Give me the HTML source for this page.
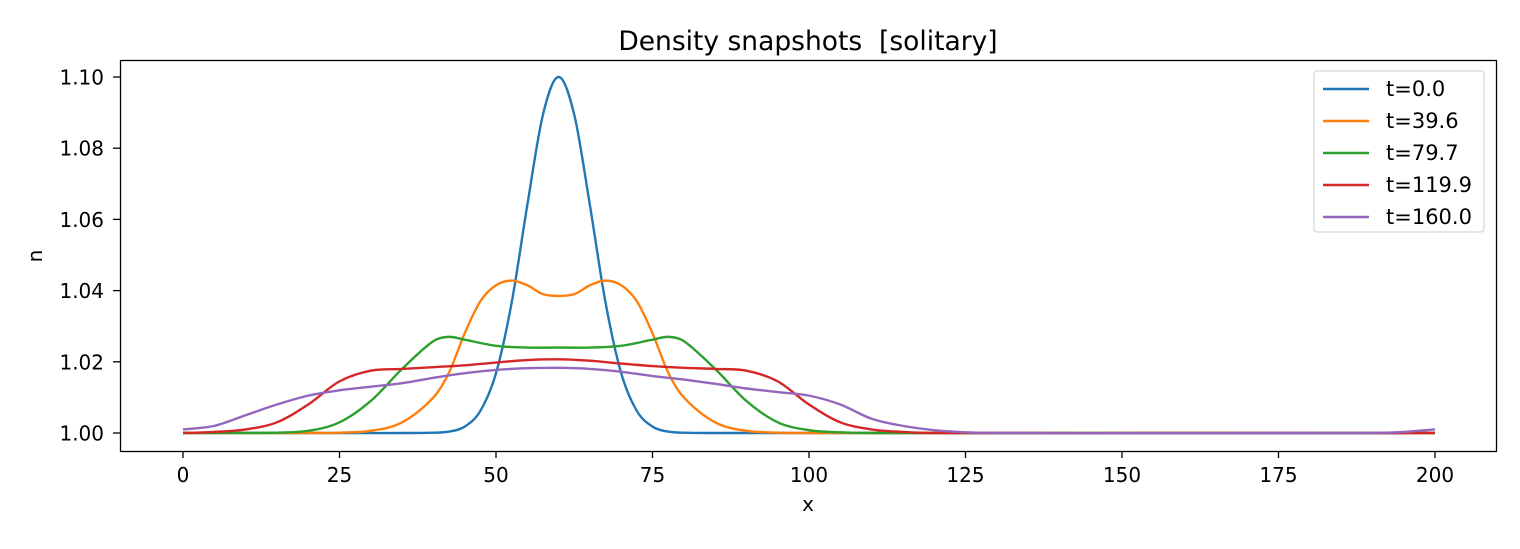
<!DOCTYPE html>
<html><head><meta charset="utf-8"><style>
body{margin:0;background:#fff;}
svg{font-family:"DejaVu Sans","Liberation Sans",sans-serif;}
</style></head><body>
<svg id="chart" width="1520" height="544" viewBox="0 0 1520 544" xmlns="http://www.w3.org/2000/svg">
<rect width="1520" height="544" fill="#fff"/>
<text x="808" y="50" font-size="26.5" text-anchor="middle" style="white-space:pre">Density snapshots  [solitary]</text>
<g id="ticks"></g>
<g id="series"></g>
<rect x="120.5" y="60.5" width="1376" height="391" fill="none" stroke="#000" stroke-width="1.3"/>
<text x="808" y="511" font-size="20" text-anchor="middle">x</text>
<text x="42" y="256" font-size="20" text-anchor="middle" transform="rotate(-90 42 256)">n</text>
<g id="legend"></g>
</svg>
<script>
const xTicks=[0,25,50,75,100,125,150,175,200];
const yTicks=[1.00,1.02,1.04,1.06,1.08,1.10];
const labels=["t=0.0","t=39.6","t=79.7","t=119.9","t=160.0"];
const colors=["#1f77b4","#ff7f0e","#2ca02c","#d62728","#9467bd"];
const x0=[0,20,35,40,42.5,45,47.5,50,52.5,55,57.5,60,62.5,65,67.5,70,72.5,75,77.5,80,85,100,200];
const y0=[1,1,1,1.00008,1.0004,1.0018,1.0062,1.0168,1.0366,1.064,1.0894,1.1,1.0894,1.064,1.0366,1.0168,1.0062,1.0018,1.0004,1.00008,1,1,1];
const x1=[0,20,25,30,35,40,42.5,45,47.5,50,52.5,55,57.5,60,62.5,65,67.5,70,72.5,75,77.5,80,85,90,95,100,200];
const y1=[1,1,1.0001,1.0006,1.003,1.01,1.017,1.028,1.037,1.0415,1.0428,1.0415,1.039,1.0385,1.039,1.0415,1.0428,1.0415,1.037,1.028,1.017,1.01,1.003,1.0006,1.0001,1,1];
const x2=[0,15,20,25,30,35,40,42.5,45,50,55,60,65,70,75,77.5,80,85,90,95,100,105,110,200];
const y2=[1,1.0001,1.0006,1.003,1.009,1.018,1.0258,1.027,1.0262,1.0245,1.024,1.024,1.024,1.0245,1.0262,1.027,1.0258,1.018,1.009,1.003,1.0008,1.0002,1,1];
const x3=[0,5,10,15,20,25,30,35,40,45,50,55,60,65,70,75,80,85,90,95,100,105,110,115,120,200];
const y3=[1,1.0003,1.001,1.003,1.008,1.0145,1.0175,1.018,1.0185,1.019,1.0198,1.0205,1.0207,1.0203,1.0195,1.0188,1.0183,1.018,1.0175,1.0145,1.008,1.003,1.001,1.0003,1,1];
const x4=[0,5,10,15,20,25,30,35,40,45,50,55,60,65,70,75,80,85,90,95,100,105,110,115,120,125,130,190,195,200];
const y4=[1.001,1.002,1.005,1.008,1.0105,1.012,1.013,1.014,1.0155,1.0168,1.0177,1.0182,1.0183,1.018,1.0172,1.016,1.015,1.0138,1.0125,1.0115,1.0105,1.008,1.004,1.002,1.0008,1.0002,1,1,1.0003,1.001];
const XS=[x0,x1,x2,x3,x4], YS=[y0,y1,y2,y3,y4];
const NS="http://www.w3.org/2000/svg";
const sx=v=>183+v*(1435-183)/200;
const sy=v=>433-(v-1)*(433-77)/0.1;
const tg=document.getElementById('ticks');
xTicks.forEach(t=>{
  const l=document.createElementNS(NS,'line');
  
  
  l.setAttribute('x1',sx(t));l.setAttribute('x2',sx(t));l.setAttribute('y1',451);l.setAttribute('y2',458);l.setAttribute('stroke','#000');l.setAttribute('stroke-width','1.3');
  tg.appendChild(l);
  const tx=document.createElementNS(NS,'text');
  
  
  tx.setAttribute('x',sx(t));tx.setAttribute('y',482);tx.setAttribute('font-size','20');tx.setAttribute('text-anchor','middle');
  tx.textContent=t;tg.appendChild(tx);
});
yTicks.forEach(t=>{
  const l=document.createElementNS(NS,'line');
  
  
  l.setAttribute('x1',113);l.setAttribute('x2',120);l.setAttribute('y1',sy(t));l.setAttribute('y2',sy(t));l.setAttribute('stroke','#000');l.setAttribute('stroke-width','1.3');
  tg.appendChild(l);
  const tx=document.createElementNS(NS,'text');
  
  
  tx.setAttribute('x',104);tx.setAttribute('y',sy(t)+7.5);tx.setAttribute('font-size','20');tx.setAttribute('text-anchor','end');
  tx.textContent=t.toFixed(2);tg.appendChild(tx);
});
function smooth(xs,ys){
  const n=xs.length,m=[];
  for(let i=0;i<n;i++){
    const a=Math.max(0,i-1),b=Math.min(n-1,i+1);
    m.push((ys[b]-ys[a])/(xs[b]-xs[a]));
  }
  let d='M'+sx(xs[0])+','+sy(ys[0]);
  for(let i=0;i<n-1;i++){
    const h=(xs[i+1]-xs[i])/3;
    d+=' C'+sx(xs[i]+h)+','+sy(ys[i]+m[i]*h)+' '+sx(xs[i+1]-h)+','+sy(ys[i+1]-m[i+1]*h)+' '+sx(xs[i+1])+','+sy(ys[i+1]);
  }
  return d;
}
const sg=document.getElementById('series');
XS.forEach((xs,k)=>{
  const p=document.createElementNS(NS,'path');
  
  
  p.setAttribute('d',smooth(xs,YS[k]));
  p.setAttribute('fill','none');p.setAttribute('stroke',colors[k]);p.setAttribute('stroke-width','2.4');
  sg.appendChild(p);
});
const lg=document.getElementById('legend');
const box=document.createElementNS(NS,'rect');


box.setAttribute('x',1314);box.setAttribute('y',71);box.setAttribute('width',170);box.setAttribute('height',161);box.setAttribute('rx',3);
box.setAttribute('fill','#fff');box.setAttribute('stroke','#ccc');
lg.appendChild(box);
labels.forEach((s,k)=>{
  const y=89+k*32;
  const l=document.createElementNS(NS,'line');
  
  
  l.setAttribute('x1',1323);l.setAttribute('x2',1369);l.setAttribute('y1',y);l.setAttribute('y2',y);
  l.setAttribute('stroke',colors[k]);l.setAttribute('stroke-width','2.4');
  lg.appendChild(l);
  const t=document.createElementNS(NS,'text');
  
  
  t.setAttribute('x',1386);t.setAttribute('y',y+7);t.setAttribute('font-size','21');
  t.textContent=s;lg.appendChild(t);
});
</script>
</body></html>
